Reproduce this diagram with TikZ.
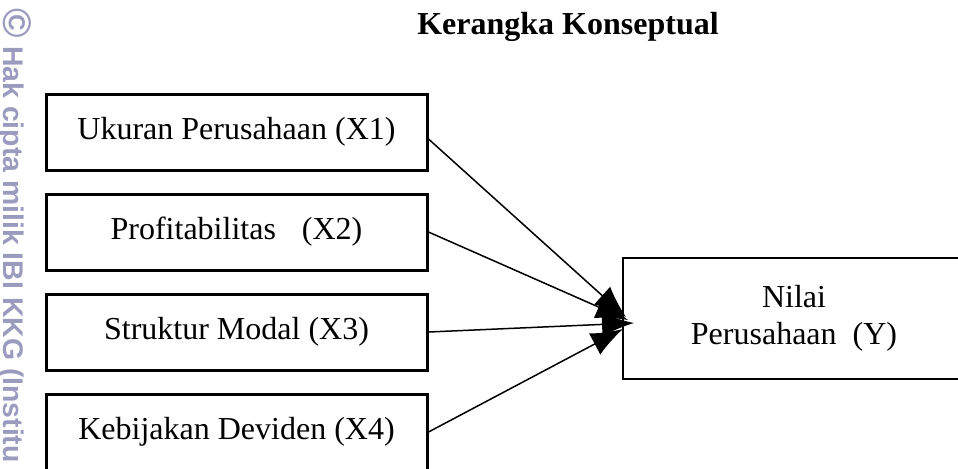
\documentclass[tikz,border=0pt]{standalone}
\usepackage{fontspec}
\setmainfont{Liberation Serif}
\newfontfamily\wmfont{Liberation Sans}
\usetikzlibrary{arrows.meta,positioning}
\definecolor{wmgray}{RGB}{155,155,192}

\begin{document}
\begin{tikzpicture}[x=0.5pt,y=-0.5pt,line width=0.75pt,node distance=50pt,
    pijl/.style={draw,-{Latex[length=16pt,width=12pt]}},
    var/.style={draw,rectangle,line width=1.5pt,minimum width=190.5pt,minimum height=38pt,inner sep=0pt,font=\fontsize{16}{18.5}\selectfont},
    hasil/.style={draw,rectangle,line width=1pt,minimum width=171pt,minimum height=60.5pt,align=center,font=\fontsize{16}{18.5}\selectfont},
    judul/.style={anchor=base,inner sep=0pt,font=\bfseries\fontsize{16}{18.5}\selectfont},
    wm/.style={rotate=-90,anchor=west,inner sep=0pt,text=wmgray,font=\wmfont\bfseries\fontsize{14.2}{16}\selectfont}]
    \clip (0,0) rectangle (958,468);
    \node[wm] (cipta) at (15,8) {{\fontsize{20}{20}\selectfont ©} Hak cipta milik IBI KKG (Institu};
    \node[judul] (title) at (568,34) {Kerangka Konseptual};
    \node[var] (x1) at (236.5,132) {Ukuran Perusahaan (X1)};
    \node[var] (x2) [below of=x1] {Profitabilitas\hspace{13pt}(X2)};
    \node[var] (x3) [below of=x2] {Struktur Modal (X3)};
    \node[var] (x4) [below of=x3] {Kebijakan Deviden (X4)};
    \node[hasil] (y) at (794,318.5) {Nilai\\Perusahaan\ \ (Y)};
    % ujung panah
    \coordinate (t1) at (626,317);
    \coordinate (t2) at (628,320);
    \coordinate (t3) at (634,323);
    \coordinate (t4) at (623,329);
    \draw[pijl] ([yshift=-3.5pt]x1.east) -- (t1);
    \draw[pijl] (x2.east) -- (t2);
    \draw[pijl] (x3.east) -- (t3);
    \draw[pijl] (x4.east) -- (t4);
\end{tikzpicture}
\end{document}
